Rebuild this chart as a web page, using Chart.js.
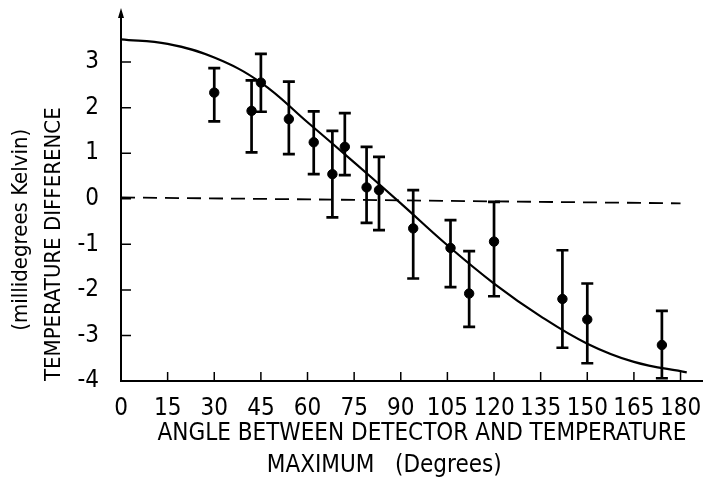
<!DOCTYPE html>
<html>
<head>
<meta charset="utf-8">
<script src="https://cdn.jsdelivr.net/npm/chart.js@4"></script>
<style>
  body { margin: 0; background: #fff; }
  canvas { display: block; }
</style>
</head>
<body>
<canvas id="chart" width="708" height="479"></canvas>
<script>
// measured points with error bars
const angles = [30, 42, 45, 54, 62, 68, 72, 79, 83, 94, 106, 112, 120, 142, 150, 174];
const tempDiff = [2.33, 1.93, 2.55, 1.75, 1.24, 0.54, 1.14, 0.25, 0.19, -0.65, -1.08, -2.08, -0.94, -2.20, -2.65, -3.21];
const errHigh = [2.87, 2.60, 3.18, 2.57, 1.92, 1.49, 1.88, 1.14, 0.92, 0.19, -0.47, -1.15, -0.07, -1.13, -1.86, -2.46];
const errLow = [1.70, 1.02, 1.91, 0.98, 0.54, -0.41, 0.52, -0.53, -0.69, -1.75, -1.94, -2.81, -2.14, -3.27, -3.61, -3.94];

// fitted curve
const curveAngles = [0, 15, 30, 45, 60, 75, 90, 105, 120, 135, 150, 165, 182];
const curveValues = [3.50, 3.40, 3.10, 2.55, 1.68, 0.80, -0.10, -1.02, -1.86, -2.58, -3.18, -3.58, -3.81];

// dashed zero line
const zeroAngles = [0, 180];
const zeroValues = [0.03, -0.1];

const xTicks = [0, 15, 30, 45, 60, 75, 90, 105, 120, 135, 150, 165, 180];
const yTicks = [-4, -3, -2, -1, 0, 1, 2, 3];

const FONT = '"Liberation Sans Narrow", "DejaVu Sans Condensed", sans-serif';
const font = { family: FONT, size: 24, lineHeight: 1.35 };

const errorBars = {
  id: 'errorBars',
  beforeDatasetsDraw(chart) {
    const { ctx, scales: { x, y } } = chart;
    ctx.save();
    ctx.strokeStyle = '#000';
    ctx.lineWidth = 2.7;
    angles.forEach((a, i) => {
      const px = x.getPixelForValue(a);
      const top = y.getPixelForValue(errHigh[i]);
      const bot = y.getPixelForValue(errLow[i]);
      ctx.beginPath();
      ctx.moveTo(px, top); ctx.lineTo(px, bot);
      ctx.moveTo(px - 6, top); ctx.lineTo(px + 6, top);
      ctx.moveTo(px - 6, bot); ctx.lineTo(px + 6, bot);
      ctx.stroke();
    });
    ctx.restore();
  }
};

// inward tick marks and the arrow at the top of the y axis
const axisMarks = {
  id: 'axisMarks',
  afterDraw(chart) {
    const { ctx, chartArea, scales: { x, y } } = chart;
    const x0 = chartArea.left, y0 = chartArea.bottom;
    ctx.save();
    ctx.strokeStyle = '#000';
    ctx.lineWidth = 1.5;
    ctx.beginPath();
    xTicks.slice(1).forEach(v => {
      const px = x.getPixelForValue(v);
      ctx.moveTo(px, y0); ctx.lineTo(px, y0 - 9);
    });
    yTicks.slice(1).forEach(v => {
      const py = y.getPixelForValue(v);
      ctx.moveTo(x0, py); ctx.lineTo(x0 + 10, py);
    });
    ctx.stroke();
    ctx.fillStyle = '#000';
    ctx.beginPath();
    ctx.moveTo(x0, chartArea.top - 4);
    ctx.lineTo(x0 - 3, chartArea.top + 6);
    ctx.lineTo(x0 + 3, chartArea.top + 6);
    ctx.closePath();
    ctx.fill();
    ctx.restore();
  }
};

new Chart(document.getElementById('chart'), {
  type: 'scatter',
  data: {
    datasets: [
      {
        type: 'line',
        data: zeroAngles.map((a, i) => ({ x: a, y: zeroValues[i] })),
        borderColor: '#000',
        borderWidth: 1.8,
        borderDash: [14, 8],
        pointRadius: 0
      },
      {
        type: 'line',
        data: curveAngles.map((a, i) => ({ x: a, y: curveValues[i] })),
        borderColor: '#000',
        borderWidth: 2.2,
        tension: 0.4,
        pointRadius: 0
      },
      {
        data: angles.map((a, i) => ({ x: a, y: tempDiff[i] })),
        backgroundColor: '#000',
        borderColor: '#000',
        pointRadius: 4.7
      }
    ]
  },
  options: {
    responsive: false,
    animation: false,
    devicePixelRatio: 1,
    layout: { padding: { top: 12, right: 3, left: 0, bottom: 0 } },
    plugins: { legend: { display: false }, tooltip: { enabled: false } },
    scales: {
      x: {
        type: 'linear',
        position: 'bottom',
        min: 0,
        max: 187,
        afterBuildTicks: s => { s.ticks = xTicks.map(v => ({ value: v })); },
        afterFit: s => { s.height = 98; s.paddingLeft = 0; s.paddingRight = 0; },
        grid: { display: false },
        border: { color: '#000', width: 2 },
        ticks: { color: '#000', font, padding: 4, maxRotation: 0, autoSkip: false },
        title: {
          display: true,
          text: ['   ANGLE BETWEEN DETECTOR AND TEMPERATURE', 'MAXIMUM   (Degrees)        '],
          color: '#000',
          font,
          padding: { top: 0, bottom: -3 }
        }
      },
      y: {
        min: -4,
        max: 4.1,
        afterBuildTicks: s => { s.ticks = yTicks.map(v => ({ value: v })); },
        afterFit: s => { s.width = 121; s.paddingTop = 0; s.paddingBottom = 0; },
        grid: { display: false },
        border: { color: '#000', width: 2 },
        ticks: { color: '#000', font, padding: 14 },
        title: {
          display: true,
          align: 'start',
          text: ['        (millidegrees Kelvin)', 'TEMPERATURE DIFFERENCE'],
          color: '#000',
          font: { family: FONT, size: 22, lineHeight: 1.5 },
          padding: { top: 5, bottom: 0 }
        }
      }
    }
  },
  plugins: [errorBars, axisMarks]
});
</script>
</body>
</html>
